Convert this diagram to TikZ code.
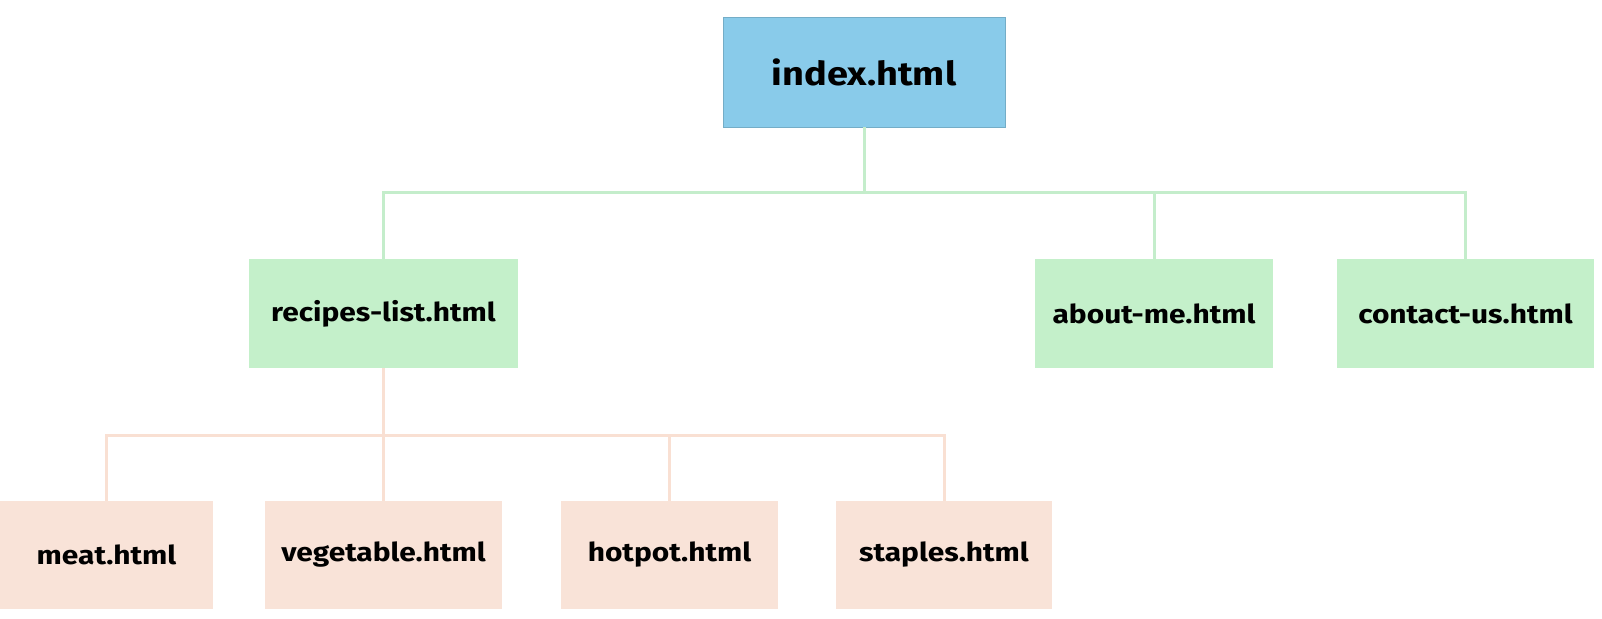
\documentclass[tikz,border=0pt]{standalone}
\usepackage{fontspec}
\setmainfont{Fira Sans}[FakeStretch=1.15]
\definecolor{boxblue}{HTML}{89CBEA}
\definecolor{boxgreen}{HTML}{C4F0CA}
\definecolor{linegreen}{HTML}{C4EDCB}
\definecolor{boxpeach}{HTML}{F9E3D8}
\definecolor{linepeach}{HTML}{F9E0D3}
\begin{document}
\begin{tikzpicture}[x=1pt,y=1pt,
  filebox/.style={rectangle, inner sep=0pt, font=\bfseries\fontsize{26}{30}\selectfont, text=black},
  rootbox/.style={filebox, fill=boxblue, draw=boxblue!85!black, line width=0.5pt, minimum width=282, minimum height=110, font=\bfseries\fontsize{33}{38}\selectfont},
  midbox/.style={filebox, fill=boxgreen, minimum height=109},
  leafbox/.style={filebox, fill=boxpeach, minimum height=108},
  gline/.style={draw=linegreen, line width=3pt},
  pline/.style={draw=linepeach, line width=3pt}]
\useasboundingbox (0,0) rectangle (1602,618);
\fill[white] (0,0) rectangle (1602,618);
\node[rootbox] (index) at (864,546) {index.html};
\node[midbox, minimum width=269] (recipes) at (383.5,304.5) {recipes-list.html};
\node[midbox, minimum width=238] (about) at (1154,304.5) {about-me.html};
\node[midbox, minimum width=257] (contact) at (1465.5,304.5) {contact-us.html};
\node[leafbox, minimum width=213] (meat) at (106.5,63) {meat.html};
\node[leafbox, minimum width=237] (veg) at (383.5,63) {vegetable.html};
\node[leafbox, minimum width=217] (hotpot) at (669.5,63) {hotpot.html};
\node[leafbox, minimum width=216] (staples) at (944,63) {staples.html};
\coordinate (topbus) at (0,425);
\coordinate (lowbus) at (0,182);
\draw[gline] (index.south) -- (index.south |- topbus);
\draw[gline] (recipes.north) |- (contact.north |- topbus) -- (contact.north);
\draw[gline] (about.north) -- (about.north |- topbus);
\draw[pline] (recipes.south) -- (recipes.south |- lowbus);
\draw[pline] (meat.north) |- (staples.north |- lowbus) -- (staples.north);
\draw[pline] (veg.north) -- (veg.north |- lowbus);
\draw[pline] (hotpot.north) -- (hotpot.north |- lowbus);
\end{tikzpicture}
\end{document}
